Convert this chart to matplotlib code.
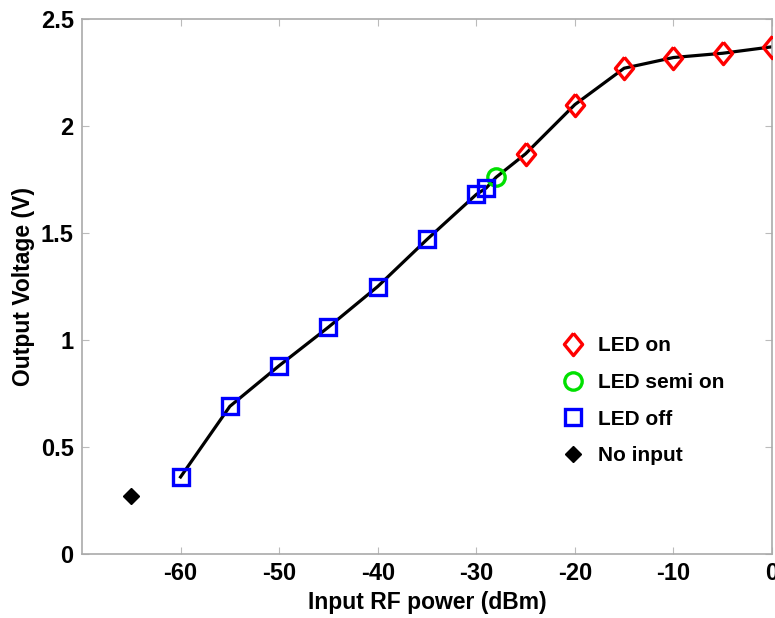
import matplotlib.pyplot as plt

plt.rcParams['font.family'] = ['Liberation Sans', 'DejaVu Sans']
plt.rcParams['font.weight'] = 'bold'
plt.rcParams['axes.unicode_minus'] = False

# data
power_on = [-25, -20, -15, -10, -5, 0]
volt_on = [1.87, 2.10, 2.27, 2.32, 2.34, 2.37]
power_semi = [-28]
volt_semi = [1.76]
power_off = [-60, -55, -50, -45, -40, -35, -30, -29]
volt_off = [0.36, 0.69, 0.88, 1.06, 1.25, 1.47, 1.68, 1.71]
power_none = [-65]
volt_none = [0.27]

xticks = [-60, -50, -40, -30, -20, -10, 0]
yticks = [0, 0.5, 1, 1.5, 2, 2.5]

diamond = [(0, 1), (0.82, 0), (0, -1), (-0.82, 0), (0, 1)]

fig = plt.figure(figsize=(7.75, 6.18), dpi=100)
ax = fig.add_axes([82 / 775, 1 - 554 / 618, 690 / 775, 535 / 618])

line_x = power_off + power_semi + power_on
line_y = volt_off + volt_semi + volt_on
ax.plot(line_x, line_y, color='black', lw=2.3, zorder=2)

ax.plot(power_on, volt_on, ls='none', marker=diamond, ms=16, mfc='none',
        mec='red', mew=2.4, label='LED on', zorder=3)
ax.plot(power_semi, volt_semi, ls='none', marker='o', ms=12.5, mfc='none',
        mec='#00e000', mew=2.4, label='LED semi on', zorder=3)
ax.plot(power_off, volt_off, ls='none', marker='s', ms=11, mfc='none',
        mec='blue', mew=2.4, label='LED off', zorder=3)
ax.plot(power_none, volt_none, ls='none', marker='D', ms=8, color='black',
        label='No input', zorder=3)

ax.set_xlim(-70, 0)
ax.set_ylim(0, 2.5)
ax.set_xticks(xticks)
ax.set_yticks(yticks)
ax.set_yticklabels(['0', '0.5', '1', '1.5', '2', '2.5'])
ax.tick_params(direction='in', length=5, color='#bbbbbb', top=True, right=True,
               labelsize=17, pad=6)
for s in ax.spines.values():
    s.set_color('#aaaaaa')
    s.set_linewidth(1.2)

ax.set_xlabel('Input RF power (dBm)', fontsize=16.5, fontweight='bold', labelpad=4)
ax.set_ylabel('Output Voltage (V)', fontsize=16.5, fontweight='bold', labelpad=4)

ax.legend(loc='lower left', bbox_to_anchor=(0.685, 0.15), frameon=False,
          fontsize=15, handlelength=1.0, handletextpad=0.7, labelspacing=0.85,
          borderaxespad=0)

fig.savefig('out.png', dpi=100)
